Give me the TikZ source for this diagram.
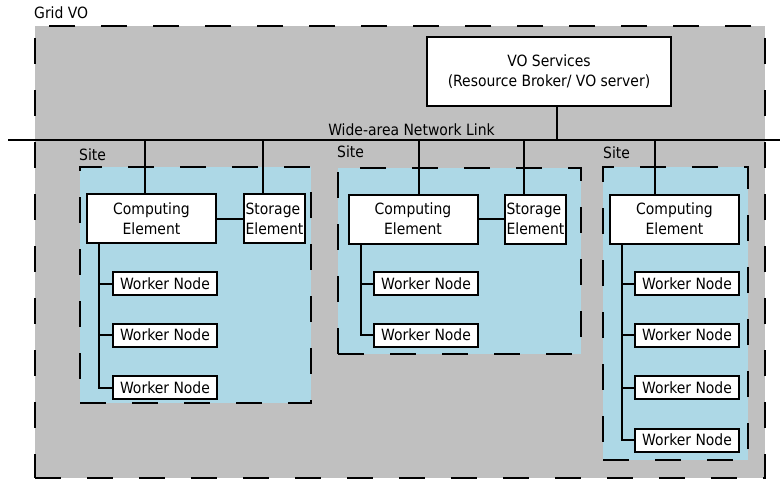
\documentclass[tikz,border=0pt]{standalone}
\usepackage{fontspec}
\setmainfont{DejaVu Sans Condensed}
\definecolor{vogray}{RGB}{192,192,192}
\definecolor{siteblue}{RGB}{173,216,230}
\begin{document}
\begin{tikzpicture}[x=1pt,y=-1pt,
  every node/.style={font=\fontsize{15.5}{20}\selectfont},
  dashbox/.style={draw, line width=2pt, dash pattern=on 26pt off 26pt, inner sep=0pt},
  vobox/.style={dashbox, fill=vogray},
  sitebox/.style={dashbox, fill=siteblue},
  whitebox/.style={draw, fill=white, line width=2pt, inner sep=0pt, align=center},
  wnbox/.style={whitebox, minimum width=104pt, minimum height=23pt},
  cebox/.style={whitebox, minimum width=129pt, minimum height=49pt},
  sebox/.style={whitebox, minimum width=61pt, minimum height=49pt, align=left},
  lbl/.style={inner sep=0pt, anchor=base west},
  link/.style={line width=2pt}
]
\useasboundingbox (0,0) rectangle (781,481);

% Grid VO
\node[vobox, minimum width=730pt, minimum height=452pt] (grid) at (400,252) {};
\node[lbl] (gridlbl) at (34,19) {Grid VO};

% VO services
\node[whitebox, minimum width=244pt, minimum height=69pt] (vo) at (549,71.5)
  {VO Services\\(Resource Broker/ VO server)};

% Network
\coordinate (netL) at (8,140);
\coordinate (netR) at (780,140);
\draw[link] (netL) -- (netR);
\node[inner sep=0pt, anchor=base] (netlbl) at (411.5,135.5) {Wide-area Network Link};
\coordinate (vot) at (557,140);
\draw[link] (vot) -- (vot |- vo.south);

% Sites
\node[sitebox, minimum width=231pt, minimum height=236pt] (site1) at (195.5,285) {};
\node[sitebox, minimum width=243pt, minimum height=186pt] (site2) at (459.5,261) {};
\node[sitebox, minimum width=145pt, minimum height=293pt] (site3) at (675.5,313.5) {};
\node[lbl] (s1lbl) at (79,160.5) {Site};
\node[lbl] (s2lbl) at (337,157.5) {Site};
\node[lbl] (s3lbl) at (603,158.5) {Site};

% Site 1
\node[cebox] (ce1) at (151.5,218.5) {Computing\\Element};
\node[sebox] (se1) at (274.5,218.5) {Storage\\Element};
\node[wnbox] (w11) at (165,283.5) {Worker Node};
\node[wnbox] (w12) at (165,335) {Worker Node};
\node[wnbox] (w13) at (165,387.5) {Worker Node};
\coordinate (t1c) at (145,140);
\coordinate (t1s) at (263,140);
\coordinate (tr1) at (99,244);
\draw[link] (t1c) -- (t1c |- ce1.north);
\draw[link] (t1s) -- (t1s |- se1.north);
\draw[link] (ce1.east) -- (se1.west);
\draw[link] (tr1 |- ce1.south) |- (w13.west);
\draw[link] (tr1 |- w11.west) -- (w11.west);
\draw[link] (tr1 |- w12.west) -- (w12.west);

% Site 2
\node[cebox] (ce2) at (413,219) {Computing\\Element};
\node[sebox] (se2) at (535.5,219) {Storage\\Element};
\node[wnbox] (w21) at (426,283.5) {Worker Node};
\node[wnbox] (w22) at (426,335) {Worker Node};
\coordinate (t2c) at (419,140);
\coordinate (t2s) at (524,140);
\coordinate (tr2) at (361,244);
\draw[link] (t2c) -- (t2c |- ce2.north);
\draw[link] (t2s) -- (t2s |- se2.north);
\draw[link] (ce2.east) -- (se2.west);
\draw[link] (tr2 |- ce2.south) |- (w22.west);
\draw[link] (tr2 |- w21.west) -- (w21.west);

% Site 3
\node[cebox] (ce3) at (674.5,219) {Computing\\Element};
\node[wnbox] (w31) at (687,283.5) {Worker Node};
\node[wnbox] (w32) at (687,335) {Worker Node};
\node[wnbox] (w33) at (687,387.5) {Worker Node};
\node[wnbox] (w34) at (687,440) {Worker Node};
\coordinate (t3c) at (655,140);
\coordinate (tr3) at (622,244);
\draw[link] (t3c) -- (t3c |- ce3.north);
\draw[link] (tr3 |- ce3.south) |- (w34.west);
\draw[link] (tr3 |- w31.west) -- (w31.west);
\draw[link] (tr3 |- w32.west) -- (w32.west);
\draw[link] (tr3 |- w33.west) -- (w33.west);
\end{tikzpicture}
\end{document}
